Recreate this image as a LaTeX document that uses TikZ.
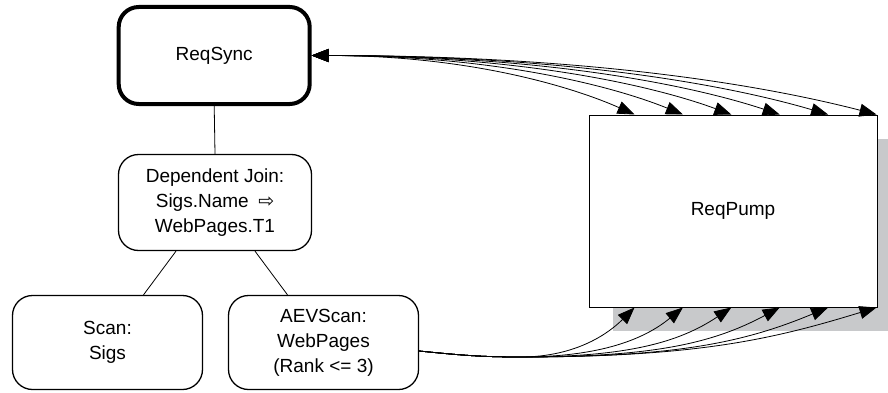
\documentclass[tikz,border=0pt]{standalone}
\usepackage{fontspec}
\setmainfont{Liberation Sans}
\newfontfamily\symfont{DejaVu Sans}
\usetikzlibrary{arrows.meta,calc}
\definecolor{shadowgray}{RGB}{200,201,203}
\begin{document}
\begin{tikzpicture}[x=1pt,y=1pt,
  box/.style={draw, line width=1.3pt, rounded corners=20pt, fill=white, align=center,
    inner sep=0pt, font=\fontsize{19}{25}\selectfont},
  plainbox/.style={draw, line width=1pt, fill=white, align=center,
    inner sep=0pt, font=\fontsize{19}{25}\selectfont},
  conn/.style={line width=0.8pt},
  arr/.style={line width=0.8pt, -{Triangle[length=17pt,width=13pt]}},
  darr/.style={line width=0.8pt, {Triangle[length=17pt,width=13pt]}-{Triangle[length=17pt,width=13pt]}}]
\useasboundingbox (0,0) rectangle (888,392);

% nodes
\node[box, line width=4pt, minimum width=191pt, minimum height=97pt] (rs) at (214.2,336.5) {ReqSync};
\node[box, minimum width=193pt, minimum height=96pt] (dj) at (215,189.5)
  {Dependent Join:\\ Sigs.Name\hspace{0.5em}{\symfont ⇨}\\ WebPages.T1};
\node[box, minimum width=190pt, minimum height=94pt] (scan) at (107.5,49.5) {Scan:\\ Sigs};
\node[box, minimum width=190pt, minimum height=94pt] (aev) at (323.5,49.5) {AEVScan:\\ WebPages\\ (Rank <= 3)};

% ReqPump with shadow
\coordinate (shA) at (613,61);
\coordinate (shB) at (888,253);
\fill[shadowgray] (shA) rectangle (shB);
\node[plainbox, minimum width=288pt, minimum height=192pt] (rp) at (733,181) {ReqPump};

% tree connectors
\draw[conn] (rs.south) -- (dj.north);
\draw[conn] ($(dj.south)+(-39,0)$) -- ($(scan.north)+(36,0)$);
\draw[conn] ($(dj.south)+(40,0)$) -- ($(aev.north)+(-36,0)$);

% top fan of arrows between ReqSync and ReqPump
\foreach \k in {0,...,5}{
  \pgfmathsetmacro\dx{322+48.4*\k}
  \pgfmathsetmacro\ang{24-1.9*\k}
  \pgfmathsetmacro\cc{0.5*\dx}
  \pgfmathsetmacro\LL{0.2*\dx}
  \draw[darr] (rs.east) .. controls +(\cc,0) and +(180-\ang:\LL) .. ($(rp.north west)+(46+48.4*\k,0)$);
}

% bottom fan of arrows from AEVScan to ReqPump
\coordinate (m) at ($(aev.east)+(101,-14.5)$);
\foreach \k in {0,...,5}{
  \pgfmathsetmacro\dx{115+48.4*\k}
  \pgfmathsetmacro\ang{45-5.6*\k}
  \pgfmathsetmacro\cc{0.5*\dx}
  \pgfmathsetmacro\LL{0.3*\dx}
  \draw[arr] ($(aev.east)+(0,-8.5)$) .. controls +(40,-4) and +(-40,0) .. (m)
    .. controls +(\cc,0) and +(180+\ang:\LL) .. ($(rp.south west)+(46+48.4*\k,0)$);
}
\end{tikzpicture}
\end{document}
